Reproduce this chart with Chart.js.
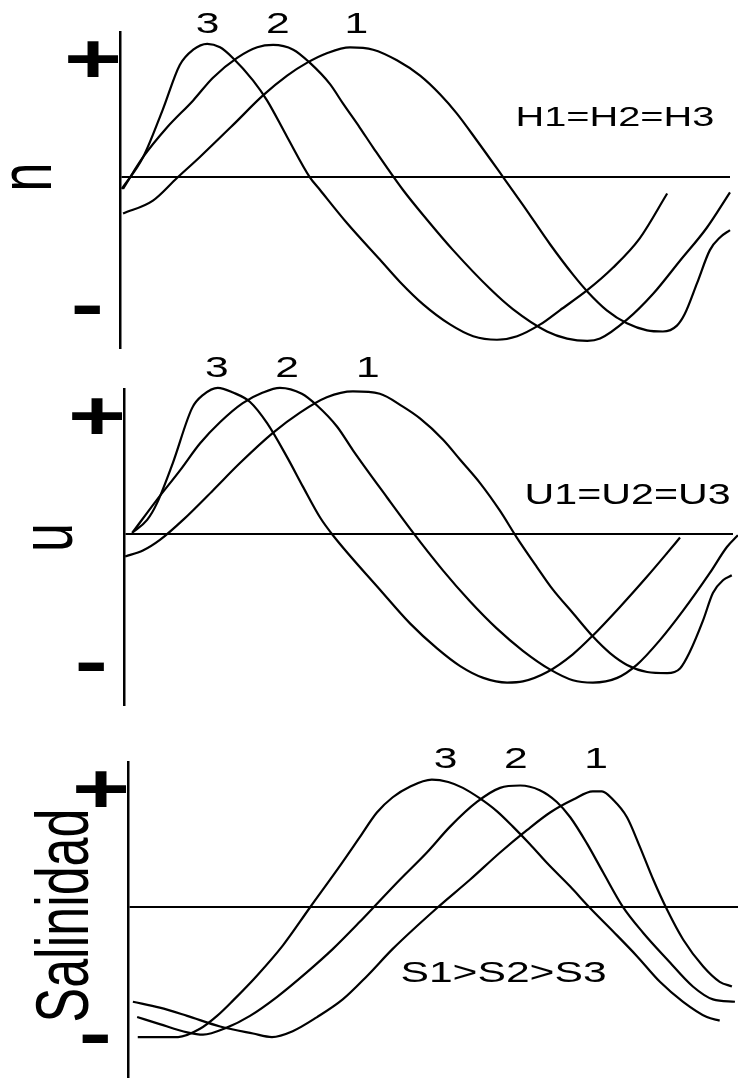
<!DOCTYPE html>
<html>
<head>
<meta charset="utf-8">
<script src="https://cdn.jsdelivr.net/npm/chart.js@4/dist/chart.umd.min.js"></script>
<style>
  html, body { margin: 0; padding: 0; background: #fff; }
  #wrap { position: relative; width: 738px; height: 1078px; }
  canvas { position: absolute; left: 0; }
</style>
</head>
<body>
<div id="wrap">
  <canvas id="eta" width="738" height="352" style="top:0"></canvas>
  <canvas id="vel" width="738" height="368" style="top:352px"></canvas>
  <canvas id="sal" width="738" height="358" style="top:720px"></canvas>
</div>
<script>
// curves as [t, value] pairs, t runs 0..100 along the axis, value relative to the zero line
const eta1 = [[0.5,-0.31],[5.4,-0.20],[9.3,-0.01],[13.1,0.17],[18.5,0.44],[23.4,0.69],[27.4,0.86],[30.7,0.97],[33.9,1.05],[37.7,1.10],[41.5,1.08],[45.4,0.99],[49.2,0.86],[52.5,0.70],[55.2,0.54],[58.5,0.31],[62.8,0.00],[66.1,-0.24],[70.5,-0.57],[74.3,-0.83],[76.6,-0.97],[79.8,-1.13],[83.1,-1.24],[86.4,-1.30],[89.0,-1.31],[91.3,-1.26],[92.6,-1.16],[94.6,-0.90],[96.7,-0.62],[98.4,-0.51],[100,-0.45]];
const eta2 = [[0.5,-0.10],[3.8,0.17],[7.7,0.42],[12.0,0.65],[15.2,0.84],[19.2,1.01],[22.5,1.10],[25.1,1.12],[28.4,1.08],[31.1,0.97],[34.4,0.79],[36.6,0.62],[39.3,0.42],[41.5,0.25],[46.4,-0.11],[50.3,-0.36],[54.6,-0.62],[60.7,-0.95],[64.4,-1.12],[70.0,-1.31],[73.3,-1.37],[76.6,-1.39],[78.7,-1.37],[83.1,-1.21],[87.4,-0.99],[91.8,-0.71],[96.2,-0.43],[100,-0.13]];
const eta3 = [[0.3,-0.10],[3.8,0.17],[7.0,0.57],[9.8,0.95],[12.0,1.08],[14.3,1.13],[16.4,1.10],[18.5,1.01],[21.8,0.82],[24.1,0.65],[27.4,0.34],[31.1,0.00],[32.8,-0.11],[37.2,-0.39],[42.6,-0.70],[45.9,-0.89],[49.7,-1.08],[54.1,-1.25],[57.9,-1.35],[61.8,-1.38],[65.1,-1.35],[68.9,-1.25],[72.1,-1.13],[76.6,-0.96],[80.8,-0.77],[85.2,-0.52],[89.7,-0.14]];

const vel1 = [[0.2,-0.19],[3.1,-0.14],[5.9,-0.05],[9.7,0.12],[14.6,0.37],[19.0,0.60],[24.5,0.86],[28.9,1.03],[33.3,1.16],[37.6,1.21],[42.0,1.19],[45.8,1.08],[48.6,0.98],[52.4,0.80],[55.2,0.63],[58.5,0.43],[61.7,0.20],[64.5,-0.03],[67.8,-0.28],[70.4,-0.47],[73.7,-0.67],[77.0,-0.87],[79.8,-1.01],[82.6,-1.11],[85.9,-1.17],[89.2,-1.18],[91.3,-1.14],[92.9,-1.00],[95.1,-0.73],[96.7,-0.50],[98.4,-0.39],[99.8,-0.35]];
const vel2 = [[1.5,0.02],[5.4,0.29],[9.2,0.54],[12.5,0.77],[15.8,0.95],[19.5,1.11],[22.8,1.20],[25.6,1.24],[29.2,1.19],[31.7,1.09],[35.0,0.91],[37.6,0.71],[43.2,0.31],[47.5,0.01],[52.4,-0.31],[56.8,-0.57],[61.2,-0.80],[65.5,-0.99],[70.0,-1.15],[73.7,-1.24],[77.0,-1.26],[81.0,-1.22],[84.2,-1.11],[88.0,-0.90],[91.8,-0.65],[96.2,-0.33],[99.0,-0.11],[100.8,-0.01]];
const vel3 = [[1.3,0.01],[3.8,0.12],[5.4,0.26],[8.0,0.60],[11.2,1.07],[13.0,1.18],[15.4,1.24],[17.9,1.20],[20.7,1.12],[23.5,0.94],[26.8,0.65],[29.4,0.40],[32.2,0.14],[34.3,-0.01],[42.0,-0.47],[47.0,-0.76],[51.4,-0.97],[55.2,-1.12],[59.0,-1.22],[62.9,-1.26],[65.5,-1.25],[69.5,-1.17],[73.7,-1.02],[77.0,-0.86],[81.4,-0.62],[85.9,-0.36],[89.2,-0.16],[91.3,-0.03]];

const sal1 = [[0.8,-0.81],[5.2,-0.86],[9.7,-0.93],[15.1,-1.02],[20.5,-1.08],[23.6,-1.11],[27.0,-1.06],[31.0,-0.94],[35.2,-0.79],[39.2,-0.59],[43.4,-0.36],[50.7,-0.01],[56.1,0.23],[61.0,0.46],[65.4,0.65],[69.2,0.80],[73.0,0.91],[76.2,0.98],[77.7,0.98],[79.5,0.91],[81.8,0.76],[83.9,0.51],[86.1,0.23],[88.4,-0.03],[91.0,-0.28],[94.3,-0.51],[97.0,-0.64],[99.0,-0.68]];
const sal2 = [[1.5,-0.94],[5.2,-1.00],[9.7,-1.07],[12.3,-1.09],[16.2,-1.03],[20.0,-0.93],[24.4,-0.77],[29.3,-0.56],[33.6,-0.36],[38.0,-0.13],[40.2,-0.01],[44.6,0.23],[49.0,0.46],[52.8,0.68],[57.2,0.89],[61.0,1.01],[64.3,1.03],[67.5,0.99],[70.3,0.89],[72.5,0.76],[75.2,0.54],[77.9,0.29],[81.1,0.00],[84.4,-0.22],[88.4,-0.45],[92.6,-0.68],[95.9,-0.79],[99.5,-0.81]];
const sal3 = [[1.6,-1.11],[8.2,-1.11],[11.8,-1.04],[14.6,-0.93],[17.2,-0.80],[21.1,-0.59],[25.4,-0.33],[29.8,-0.01],[34.8,0.35],[38.0,0.59],[40.8,0.80],[43.4,0.93],[46.2,1.02],[49.8,1.08],[52.5,1.06],[54.9,1.01],[57.7,0.92],[60.5,0.81],[63.1,0.68],[65.9,0.53],[68.7,0.37],[72.5,0.17],[75.7,-0.01],[79.5,-0.21],[83.4,-0.42],[87.2,-0.64],[91.0,-0.81],[94.9,-0.94],[97.0,-0.97]];

const seriesNames = ['1', '2', '3'];
const etaTitle = 'n', velTitle = 'u', salTitle = 'Salinidad';
const etaNote = 'H1=H2=H3', velNote = 'U1=U2=U3', salNote = 'S1>S2>S3';

const FONT = 'Arial, "Liberation Sans", sans-serif';
const STRETCH = 1.42; // text is drawn wider than tall

// draw text with its ink box centred on (cx, cy)
function inkText(ctx, text, cx, cy, font, rotated) {
  ctx.save();
  ctx.font = font;
  ctx.fillStyle = '#000';
  ctx.textAlign = 'left';
  ctx.textBaseline = 'alphabetic';
  const m = ctx.measureText(text);
  ctx.translate(cx, cy);
  if (rotated) { ctx.rotate(-Math.PI / 2); ctx.scale(1, STRETCH); }
  else ctx.scale(STRETCH, 1);
  ctx.fillText(text,
    -(m.actualBoundingBoxRight - m.actualBoundingBoxLeft) / 2,
    (m.actualBoundingBoxAscent - m.actualBoundingBoxDescent) / 2);
  ctx.restore();
}

function drawPanel(id, curves, cfg) {
  const textPlugin = {
    id: 'panelText',
    afterDraw(chart) {
      const ctx = chart.ctx, xs = chart.scales.x, ys = chart.scales.y;
      const left = chart.chartArea.left;
      inkText(ctx, '+', left - 27, ys.getPixelForValue(1), 'bold 70px ' + FONT);
      inkText(ctx, '-', left - 33, ys.getPixelForValue(-1.12), 'bold 70px ' + FONT);
      inkText(ctx, cfg.title, left + cfg.titleDx, ys.getPixelForValue(cfg.titleY), '52px ' + FONT, true);
      cfg.peaks.forEach((px, i) => {
        inkText(ctx, seriesNames[i], xs.getPixelForValue(px), ys.getPixelForValue(cfg.peakY), '30px ' + FONT);
      });
      inkText(ctx, cfg.note, xs.getPixelForValue(cfg.noteX), ys.getPixelForValue(cfg.noteY), cfg.noteSize + 'px ' + FONT);
    }
  };
  return new Chart(document.getElementById(id), {
    type: 'line',
    data: {
      datasets: curves.map((pts, i) => ({
        label: seriesNames[i],
        data: pts.map(p => ({ x: p[0], y: p[1] })),
        borderColor: '#000',
        borderWidth: 2.2,
        pointRadius: 0,
        cubicInterpolationMode: 'monotone',
        fill: false,
        clip: false
      }))
    },
    options: {
      responsive: false,
      animation: false,
      layout: { padding: cfg.padding },
      plugins: { legend: { display: false }, tooltip: { enabled: false } },
      scales: {
        x: { type: 'linear', min: 0, max: 100, display: false },
        y: {
          min: -1.45, max: 1.23,
          afterFit(s) { s.width = cfg.axisLeft; },
          afterBuildTicks(s) { s.ticks = [{ value: 0 }]; },
          ticks: { display: false },
          grid: { color: '#000', lineWidth: 2, drawTicks: false },
          border: { display: true, color: '#000', width: 2.5 }
        }
      }
    },
    plugins: [textPlugin]
  });
}

drawPanel('eta', [eta1, eta2, eta3], {
  axisLeft: 120, padding: { top: 32, bottom: 4, right: 8, left: 0 },
  title: etaTitle, titleDx: -89, titleY: 0,
  peaks: [38.9, 25.9, 14.4], peakY: 1.31,
  note: etaNote, noteX: 81.3, noteY: 0.51, noteSize: 28
});
drawPanel('vel', [vel1, vel2, vel3], {
  axisLeft: 124, padding: { top: 37, bottom: 15, right: 5, left: 0 },
  title: velTitle, titleDx: -70, titleY: -0.03,
  peaks: [40.2, 26.8, 15.3], peakY: 1.415,
  note: velNote, noteX: 82.8, noteY: 0.34, noteSize: 29
});
drawPanel('sal', [sal1, sal2, sal3], {
  axisLeft: 128, padding: { top: 42, bottom: 1, right: 0, left: 0 },
  title: salTitle, titleDx: -66, titleY: -0.08,
  peaks: [76.9, 63.6, 52.1], peakY: 1.26,
  note: salNote, noteX: 61.6, noteY: -0.56, noteSize: 30
});
</script>
</body>
</html>
